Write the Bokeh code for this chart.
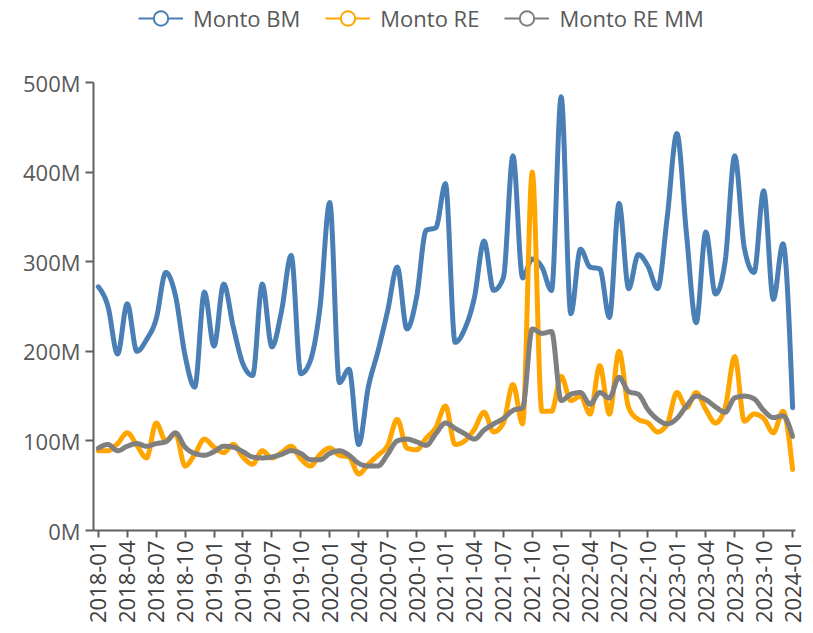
import numpy as np
import pandas as pd
from math import pi
from bokeh.plotting import figure
from bokeh.layouts import column
from bokeh.models import FixedTicker, Legend, LegendItem, Range1d
from bokeh.embed import file_html
from bokeh.resources import INLINE

# ---------------- data (values in millions) ----------------
months = pd.date_range("2018-01-01", "2024-01-01", freq="MS").strftime("%Y-%m").tolist()

monto_bm = [272, 250, 197, 253, 200, 213, 236, 288, 262, 195,
            160, 266, 206, 275, 227, 186, 173, 275, 205, 245,
            307, 175, 190, 250, 366, 165, 180, 96, 160, 200,
            245, 294, 225, 260, 335, 338, 387, 210, 225, 260,
            323, 268, 282, 418, 282, 303, 294, 268, 484, 242,
            314, 294, 292, 238, 365, 270, 308, 295, 270, 350,
            443, 330, 232, 333, 264, 300, 418, 315, 288, 379,
            258, 320, 137]

monto_re = [89, 89, 97, 109, 95, 81, 120, 100, 108, 72,
            85, 102, 93, 87, 96, 82, 74, 89, 81, 87,
            94, 80, 72, 85, 92, 84, 82, 63, 74, 84,
            95, 124, 92, 90, 103, 115, 139, 96, 100, 113,
            132, 110, 120, 163, 119, 400, 133, 133, 172, 145,
            150, 130, 184, 130, 200, 137, 124, 120, 110, 119,
            154, 137, 154, 135, 120, 137, 194, 122, 130, 125,
            109, 133, 68]

monto_re_mm = [92, 96, 89, 94, 97, 94, 97, 99, 109, 93,
               86, 84, 88, 94, 93, 88, 82, 81, 82, 85,
               89, 86, 79, 79, 86, 89, 84, 75, 72, 72,
               85, 100, 102, 99, 95, 108, 120, 114, 108, 102,
               112, 119, 125, 134, 137, 225, 220, 222, 145, 152,
               154, 141, 154, 148, 171, 155, 152, 135, 124, 119,
               125, 139, 150, 146, 138, 132, 148, 150, 147, 134,
               126, 128, 105]

series_names = ["Monto BM", "Monto RE", "Monto RE MM"]
series_colors = ["#4A7FB5", "#FFA500", "#7F7F7F"]

x_tick_labels = months[::3]
y_ticks = [0, 100, 200, 300, 400, 500]
y_tick_labels = ["0M", "100M", "200M", "300M", "400M", "500M"]


def monotone_x(xs, ys, n=16):
    """d3 curveMonotoneX rendering of the series (visual smoothing only)."""
    xs = np.asarray(xs, float)
    ys = np.asarray(ys, float)
    h = np.diff(xs)
    s = np.diff(ys) / h
    N = len(xs)
    t = np.zeros(N)
    sgn = lambda v: -1.0 if v < 0 else 1.0
    for i in range(1, N - 1):
        s0, s1, h0, h1 = s[i - 1], s[i], h[i - 1], h[i]
        p = (s0 * h1 + s1 * h0) / (h0 + h1)
        t[i] = (sgn(s0) + sgn(s1)) * min(abs(s0), abs(s1), 0.5 * abs(p))
    t[0] = (3 * s[0] - t[1]) / 2
    t[-1] = (3 * s[-1] - t[-2]) / 2
    ox, oy = [], []
    u = np.linspace(0, 1, n, endpoint=False)
    for i in range(N - 1):
        dx = h[i]
        h00 = 2 * u**3 - 3 * u**2 + 1
        h10 = u**3 - 2 * u**2 + u
        h01 = -2 * u**3 + 3 * u**2
        h11 = u**3 - u**2
        ox.extend(xs[i] + u * dx)
        oy.extend(h00 * ys[i] + h10 * dx * t[i] + h01 * ys[i + 1] + h11 * dx * t[i + 1])
    ox.append(xs[-1])
    oy.append(ys[-1])
    return ox, oy


x_idx = list(range(len(months)))

# ---------------- legend strip ----------------
lg = figure(width=813, height=36, output_backend="svg", toolbar_location=None,
            x_range=Range1d(0, 1), y_range=Range1d(0, 1),
            x_axis_location=None, y_axis_location=None,
            min_border=0, min_border_left=0, min_border_right=0,
            min_border_top=0, min_border_bottom=0)
lg.outline_line_color = None
lg.xgrid.visible = False
lg.ygrid.visible = False

items = []
for name, col in zip(series_names, series_colors):
    # one off-screen point each, only so that the legend draws its glyphs
    lg_line = lg.line(x=[-10, -9], y=[-10, -10], line_color=col, line_width=2)
    lg_dot = lg.scatter(x=[-10], y=[-10], marker="circle", size=15, fill_color="white",
                        line_color=col, line_width=2)
    items.append(LegendItem(label=name, renderers=[lg_line, lg_dot]))

legend = Legend(items=items, orientation="horizontal", location=(45, 0),
                label_text_font="Open Sans", label_text_font_size="22px",
                label_text_color="#595959", glyph_width=45, glyph_height=36,
                label_standoff=10, spacing=25, padding=0, margin=0,
                border_line_color=None, background_fill_alpha=0)
lg.add_layout(legend, "center")

# ---------------- main chart ----------------
p = figure(width=813, height=590, output_backend="svg", toolbar_location=None,
           x_range=Range1d(-0.5, 72.3), y_range=Range1d(0, 500),
           min_border_left=93, min_border_right=18, min_border_top=46, min_border_bottom=96)
p.outline_line_color = None
p.xgrid.visible = False
p.ygrid.visible = False

for name, vals, col in zip(series_names, [monto_bm, monto_re, monto_re_mm], series_colors):
    sx, sy = monotone_x(x_idx, vals)
    p.line(sx, sy, line_color=col, line_width=5, line_join="round", line_cap="round")

# x axis
p.xaxis.ticker = FixedTicker(ticks=list(range(0, len(months), 3)))
p.xaxis.major_label_overrides = {i * 3: lab for i, lab in enumerate(x_tick_labels)}
p.xaxis.major_label_orientation = pi / 2
p.xaxis.major_label_text_font = "Open Sans"
p.xaxis.major_label_text_font_size = "22px"
p.xaxis.major_label_text_color = "#404040"
p.xaxis.major_label_standoff = 3
p.xaxis.minor_tick_line_color = None
p.xaxis.major_tick_in = 0
p.xaxis.major_tick_out = 7

# y axis
p.yaxis.ticker = FixedTicker(ticks=y_ticks)
p.yaxis.major_label_overrides = {v: lab for v, lab in zip(y_ticks, y_tick_labels)}
p.yaxis.major_label_text_font = "Open Sans"
p.yaxis.major_label_text_font_size = "22px"
p.yaxis.major_label_text_color = "#595959"
p.yaxis.major_label_standoff = 5
p.yaxis.minor_tick_line_color = None
p.yaxis.major_tick_in = 0
p.yaxis.major_tick_out = 8

for ax in (p.xaxis, p.yaxis):
    ax.axis_line_color = "#606060"
    ax.axis_line_width = 2
    ax.major_tick_line_color = "#606060"
    ax.major_tick_line_width = 2

layout = column(lg, p, spacing=0)
open("out.html", "w").write(file_html(layout, INLINE))
